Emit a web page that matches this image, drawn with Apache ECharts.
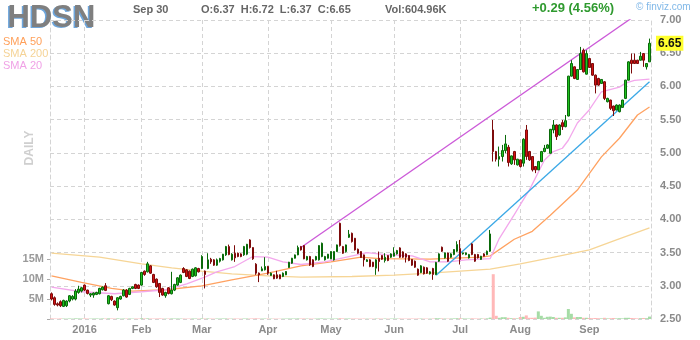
<!DOCTYPE html>
<html><head><meta charset="utf-8">
<script src="https://cdn.jsdelivr.net/npm/echarts@6/dist/echarts.min.js"></script>
<style>html,body{margin:0;padding:0;background:#fff}#c{width:700px;height:340px}</style>
</head><body><div id="c"></div>
<script>
const holidays = ['2015-12-25','2016-01-01','2016-01-18','2016-02-15','2016-03-25','2016-05-30','2016-07-04','2016-09-05'];
const monthLabels = ['2016','Feb','Mar','Apr','May','Jun','Jul','Aug','Sep','Oct','Nov','Dec'];
const volumeTickLabels = ['5M','10M','15M'];

const open = [
2.88,2.82,2.73,2.76,2.69,2.70,2.77,2.80,2.80,2.90,
2.92,3.01,2.935,2.86,2.86,2.87,2.88,2.94,3.00,2.73,
2.84,2.77,2.67,2.80,2.85,2.935,2.87,2.96,3.02,3.01,
3.01,3.22,3.21,3.30,3.17,3.10,3.035,2.96,2.85,2.97,
2.88,2.935,3.01,3.05,3.26,3.24,3.22,3.14,3.15,3.26,
3.26,3.22,3.26,3.40,3.39,3.31,3.37,3.39,3.465,3.59,
3.39,3.49,3.49,3.48,3.465,3.475,3.69,3.575,3.325,3.19,
3.225,3.24,3.29,3.155,3.165,3.165,3.165,3.14,3.165,3.275,
3.34,3.415,3.465,3.59,3.605,3.39,3.44,3.39,3.39,3.39,
3.44,3.39,3.415,3.405,3.39,3.515,3.94,3.59,3.515,3.73,
3.79,3.715,3.55,3.515,3.465,3.365,3.39,3.355,3.265,3.415,
3.455,3.38,3.455,3.43,3.445,3.48,3.57,3.51,3.48,3.455,
3.396,3.37,3.25,3.20,3.28,3.27,3.18,3.26,3.17,3.37,
3.58,3.42,3.495,3.43,3.47,3.52,3.56,3.48,3.47,3.42,
3.63,3.47,3.47,3.396,3.48,3.47,3.52,5.345,5.02,4.905,
4.945,5.035,5.085,4.835,5.02,4.82,4.895,4.845,5.345,5.02,
4.945,4.795,4.745,4.87,5.02,5.07,4.995,5.345,5.42,5.27,
5.455,5.395,5.555,6.155,6.295,6.105,6.255,6.545,6.185,6.42,
6.345,6.17,6.12,6.045,6.07,5.77,5.795,5.705,5.645,5.62,
5.685,5.82,6.095,6.395,6.395,6.395,6.395,6.495,6.295,6.37];
const high = [
2.90,2.84,2.75,2.78,2.79,2.78,2.86,2.86,2.95,3.00,
2.98,3.02,2.94,2.89,2.90,2.91,2.97,2.99,3.04,2.86,
2.85,2.78,2.83,2.85,2.95,2.95,2.97,2.99,3.03,3.02,
3.21,3.23,3.36,3.31,3.18,3.11,3.04,2.97,2.91,2.98,
3.21,3.03,3.13,3.17,3.28,3.25,3.23,3.26,3.28,3.27,
3.46,3.23,3.49,3.42,3.40,3.41,3.42,3.48,3.60,3.62,
3.49,3.61,3.50,3.49,3.60,3.63,3.70,3.58,3.34,3.20,
3.29,3.43,3.30,3.20,3.17,3.225,3.17,3.20,3.22,3.36,
3.42,3.47,3.605,3.60,3.61,3.45,3.45,3.40,3.45,3.61,
3.65,3.45,3.48,3.52,3.52,3.62,3.95,3.60,3.62,3.84,
3.80,3.72,3.56,3.52,3.47,3.40,3.40,3.36,3.40,3.515,
3.46,3.49,3.46,3.49,3.58,3.54,3.58,3.52,3.49,3.46,
3.40,3.38,3.26,3.31,3.29,3.28,3.22,3.27,3.36,3.49,
3.59,3.50,3.50,3.49,3.55,3.67,3.69,3.50,3.50,3.48,
3.64,3.48,3.48,3.45,3.49,3.53,3.84,5.495,5.03,5.095,
5.12,5.27,5.12,4.96,5.03,4.91,4.90,5.22,5.42,5.03,
4.95,4.80,4.88,5.03,5.12,5.13,5.36,5.495,5.43,5.43,
5.495,5.57,6.16,6.395,6.30,6.26,6.595,6.57,6.545,6.43,
6.35,6.18,6.13,6.11,6.08,5.83,5.80,5.71,5.73,5.73,
5.80,6.10,6.38,6.495,6.495,6.40,6.52,6.50,6.35,6.72];
const low = [
2.78,2.70,2.69,2.68,2.68,2.68,2.75,2.78,2.78,2.88,
2.90,2.92,2.87,2.83,2.82,2.86,2.87,2.93,2.92,2.72,
2.77,2.70,2.63,2.79,2.84,2.82,2.86,2.95,2.95,2.95,
3.00,3.15,3.20,3.18,3.04,2.97,2.83,2.85,2.82,2.87,
2.87,2.92,3.00,3.04,3.19,3.13,3.10,3.13,3.14,3.20,
3.25,2.96,3.25,3.33,3.30,3.30,3.35,3.38,3.45,3.46,
3.38,3.36,3.43,3.43,3.45,3.46,3.56,3.39,3.165,3.055,
3.22,3.23,3.165,3.15,3.10,3.105,3.10,3.13,3.16,3.27,
3.33,3.41,3.46,3.53,3.40,3.38,3.30,3.28,3.38,3.38,
3.43,3.38,3.41,3.40,3.38,3.51,3.59,3.48,3.50,3.72,
3.65,3.53,3.48,3.42,3.29,3.36,3.28,3.28,3.165,3.215,
3.39,3.35,3.37,3.42,3.44,3.47,3.42,3.42,3.35,3.37,
3.30,3.27,3.15,3.19,3.17,3.18,3.17,3.09,3.16,3.36,
3.51,3.41,3.36,3.42,3.46,3.51,3.32,3.47,3.46,3.41,
3.46,3.36,3.41,3.39,3.44,3.46,3.51,4.87,4.87,4.795,
4.87,4.995,4.795,4.82,4.82,4.81,4.78,4.795,4.895,4.88,
4.72,4.695,4.74,4.86,5.01,5.06,4.99,5.295,5.195,5.26,
5.345,5.385,5.55,6.15,6.11,6.10,6.25,6.21,6.18,6.28,
6.16,5.895,6.01,6.04,5.795,5.76,5.645,5.555,5.64,5.61,
5.68,5.81,6.09,6.195,6.34,6.34,6.39,6.295,6.255,6.37];
const close = [
2.80,2.72,2.71,2.70,2.78,2.77,2.85,2.84,2.92,2.95,
2.97,2.935,2.884,2.88,2.89,2.90,2.96,2.98,2.93,2.85,
2.79,2.71,2.82,2.84,2.935,2.83,2.96,2.985,2.96,2.96,
3.20,3.17,3.33,3.19,3.05,2.985,2.90,2.86,2.90,2.884,
2.935,3.02,3.12,3.16,3.20,3.14,3.11,3.25,3.27,3.21,
3.44,3.17,3.39,3.36,3.31,3.39,3.41,3.475,3.59,3.47,
3.475,3.42,3.44,3.44,3.59,3.625,3.575,3.405,3.19,3.165,
3.255,3.29,3.19,3.19,3.105,3.115,3.105,3.19,3.215,3.355,
3.415,3.465,3.575,3.54,3.405,3.44,3.315,3.29,3.44,3.605,
3.64,3.44,3.475,3.515,3.515,3.615,3.605,3.49,3.615,3.775,
3.665,3.54,3.49,3.425,3.39,3.39,3.29,3.29,3.39,3.365,
3.40,3.43,3.38,3.48,3.495,3.53,3.43,3.43,3.43,3.38,
3.31,3.28,3.16,3.30,3.18,3.19,3.21,3.17,3.35,3.48,
3.52,3.495,3.37,3.48,3.545,3.62,3.396,3.495,3.495,3.47,
3.47,3.37,3.42,3.445,3.445,3.52,3.78,5.02,4.905,4.945,
5.035,5.135,4.855,4.955,4.895,4.905,4.795,5.205,4.945,4.895,
4.745,4.745,4.87,5.02,5.07,5.12,5.355,5.42,5.245,5.42,
5.395,5.485,6.155,6.345,6.12,6.255,6.495,6.22,6.495,6.285,
6.17,6.02,6.02,6.105,5.82,5.82,5.67,5.635,5.72,5.72,
5.795,6.095,6.37,6.345,6.345,6.345,6.455,6.395,6.345,6.65];
// volume in millions of shares
const volume = [
0.15,0.12,0.10,0.14,0.11,0.09,0.13,0.10,0.16,0.14,
0.12,0.15,0.11,0.10,0.12,0.13,0.10,0.14,0.12,0.16,
0.13,0.11,0.15,0.10,0.12,0.11,0.13,0.10,0.12,0.11,
0.20,0.14,0.16,0.12,0.11,0.13,0.15,0.12,0.10,0.11,
0.14,0.12,0.13,0.11,0.12,0.10,0.11,0.13,0.12,0.10,
0.16,0.12,0.14,0.11,0.10,0.12,0.11,0.13,0.14,0.12,
0.10,0.13,0.11,0.10,0.12,0.13,0.12,0.14,0.18,0.13,
0.11,0.12,0.12,0.10,0.11,0.10,0.09,0.10,0.11,0.13,
0.12,0.12,0.15,0.12,0.14,0.11,0.12,0.10,0.11,0.13,
0.14,0.11,0.10,0.12,0.11,0.13,0.20,0.14,0.12,0.13,
0.12,0.13,0.11,0.10,0.12,0.10,0.11,0.10,0.12,0.13,
0.11,0.12,0.10,0.11,0.12,0.11,0.13,0.11,0.10,0.11,
0.12,0.11,0.13,0.12,0.11,0.10,0.10,0.12,0.20,0.18,
0.15,0.12,0.11,0.13,0.15,0.20,0.22,0.14,0.12,0.11,
0.18,0.13,0.12,0.14,0.12,0.16,0.35,11.2,0.80,0.30,
0.45,0.45,0.30,0.20,0.20,0.15,0.50,0.55,0.90,0.30,
0.30,0.35,1.90,0.80,0.30,0.55,0.60,0.50,0.30,0.30,
0.30,0.40,2.50,1.30,0.40,0.50,0.50,0.30,0.30,0.25,
0.20,0.25,0.20,0.15,0.30,0.15,0.20,0.25,0.15,0.20,
0.15,0.30,0.30,0.25,0.20,0.15,0.20,0.25,0.20,0.605];
const sma20 = [[0,2.98],[10,2.91],[21,2.88],[30,2.91],[38,2.94],[45,3.03],[51,3.13],[55,3.21],[61,3.29],[67,3.44],[72,3.43],[77,3.36],[83,3.32],[91,3.36],[99,3.44],[105,3.50],[111,3.47],[120,3.45],[126,3.36],[132,3.36],[138,3.39],[146,3.41],[149,3.71],[154,4.07],[156,4.22],[159,4.44],[164,4.89],[167,5.02],[170,5.07],[172,5.19],[175,5.45],[179,5.65],[183,5.92],[189,5.99],[191,6.05],[194,6.09],[199,6.11]];
const sma50 = [[0,3.15],[10,3.05],[20,2.96],[27,2.92],[38,2.94],[50,3.00],[60,3.09],[72,3.19],[83,3.30],[93,3.36],[103,3.43],[109,3.41],[126,3.40],[143,3.43],[146,3.45],[154,3.70],[160,3.82],[166,4.06],[175,4.44],[183,4.94],[189,5.22],[195,5.57],[199,5.69]];
const sma200 = [[0,3.49],[16,3.43],[30,3.33],[40,3.27],[50,3.22],[60,3.18],[72,3.15],[83,3.13],[100,3.14],[114,3.16],[126,3.19],[136,3.22],[146,3.25],[156,3.33],[166,3.42],[179,3.54],[188,3.69],[199,3.87]];
const trendUpper = [[83,3.575],[195,7.09]];
const trendLower = [[128,3.16],[199,6.07]];

const dates = (function () {
  const out = [];
  let t = Date.UTC(2015, 11, 16);
  const end = Date.UTC(2016, 8, 30);
  while (t <= end) {
    const d = new Date(t);
    const wd = d.getUTCDay();
    const s = d.toISOString().slice(0, 10);
    if (wd !== 0 && wd !== 6 && holidays.indexOf(s) < 0) out.push(s);
    t += 86400000;
  }
  return out;
})();
const isMonthStart = i => i > 0 && i < dates.length && dates[i].slice(5, 7) !== dates[i - 1].slice(5, 7);

const FONT = '"Liberation Sans", Arial, Helvetica, sans-serif';
const GRID_C = '#d4d4d4';
const chart = echarts.init(document.getElementById('c'), null, {renderer: 'canvas'});

const txt = (left, top, text, font, fill, extra) => Object.assign({type: 'text', left, top, silent: true, style: {text, font, fill}}, extra || {});

chart.setOption({
  animation: false,
  backgroundColor: '#ffffff',
  grid: [
    {left: 50, right: 49, top: 20, bottom: 21, outerBoundsMode: 'none'},
    {left: 50, right: 49, top: 259, bottom: 21, outerBoundsMode: 'none'}
  ],
  xAxis: [
    {type: 'category', gridIndex: 0, data: dates, boundaryGap: true,
     axisLine: {show: false}, axisTick: {show: false},
     axisLabel: {interval: (i) => isMonthStart(i), margin: 5, color: '#8c8c8c', fontFamily: FONT, fontSize: 11, fontWeight: 'bold',
       formatter: (v) => monthLabels[parseInt(v.slice(5, 7), 10) - 1]},
     splitLine: {show: true, interval: (i) => isMonthStart(i), alignWithLabel: true, lineStyle: {color: GRID_C, type: [4, 3], width: 1}}},
    {type: 'category', gridIndex: 1, data: dates, boundaryGap: true, show: false}
  ],
  yAxis: [
    {type: 'value', gridIndex: 0, position: 'right', min: 2.5, max: 7, interval: 0.5, scale: true,
     axisLine: {show: true, lineStyle: {color: GRID_C, type: [4, 3]}}, axisTick: {show: false},
     axisLabel: {margin: 9, color: '#8a8a8a', fontFamily: FONT, fontSize: 11, fontWeight: 'bold', formatter: (v) => v.toFixed(2)},
     splitLine: {show: true, lineStyle: {color: GRID_C, type: [4, 3], width: 1}}},
    {type: 'value', gridIndex: 0, position: 'left', min: 0, max: 1,
     axisLine: {show: true, lineStyle: {color: GRID_C, type: [4, 3]}}, axisTick: {show: false},
     axisLabel: {show: false}, splitLine: {show: false}},
    {type: 'value', gridIndex: 1, position: 'left', min: 0, max: 15e6, interval: 5e6,
     axisLine: {show: false}, axisTick: {show: true, length: 3, lineStyle: {color: '#aaaaaa'}},
     axisLabel: {margin: 6, color: '#9a9a9a', fontFamily: FONT, fontSize: 11, fontWeight: 'bold',
       formatter: (v) => { const k = Math.round(v / 5e6); return k >= 1 && k <= 3 ? volumeTickLabels[k - 1] : ''; }},
     splitLine: {show: false}}
  ],
  series: [
    {type: 'bar', xAxisIndex: 1, yAxisIndex: 2, barWidth: 3, silent: true, z: 1,
     data: volume.map((v, i) => ({value: v * 1e6, itemStyle: {color: close[i] >= open[i] ? '#a6dca6' : '#ffb8b8'}}))},
    {type: 'line', name: 'SMA 200', data: sma200, symbol: 'none', silent: true, z: 2, lineStyle: {color: '#f6d596', width: 1.3}},
    {type: 'line', name: 'SMA 50', data: sma50, symbol: 'none', silent: true, z: 2, lineStyle: {color: '#ffa261', width: 1.3}},
    {type: 'line', name: 'SMA 20', data: sma20, symbol: 'none', silent: true, z: 2, lineStyle: {color: '#f3a8ec', width: 1.3}},
    {type: 'line', name: 'upper', data: trendUpper, symbol: 'none', silent: true, z: 3, clip: true, lineStyle: {color: '#cc5ad8', width: 1.3}},
    {type: 'line', name: 'lower', data: trendLower, symbol: 'none', silent: true, z: 3, clip: true, lineStyle: {color: '#3aa8e6', width: 1.3}},
    {type: 'candlestick', xAxisIndex: 0, yAxisIndex: 0, z: 5, barWidth: 2, silent: true,
     data: open.map((o, i) => [o, close[i], low[i], high[i]]),
     itemStyle: {color: '#1fc21f', color0: '#d41111', borderColor: '#0a6a0a', borderColor0: '#7d0b0b', borderWidth: 1},
     markLine: {silent: true, symbol: ['none', 'none'], lineStyle: {color: 'rgba(0,0,0,0)', width: 0},
       label: {show: true, position: 'end', distance: 5, formatter: () => close[close.length - 1].toFixed(2),
         backgroundColor: '#ffff2e', color: '#111', fontFamily: FONT, fontSize: 12, fontWeight: 'bold', padding: [2, 2, 1, 2]},
       data: [{yAxis: close[close.length - 1]}]}}
  ],
  graphic: [
    txt(6, 4, 'HDSN', 'bold 31px ' + FONT, '#6ea6dc'),
    txt(7.5, 2.5, 'HDSN', 'bold 31px ' + FONT, '#7f7f7f'),
    txt(3, 36, 'SMA 50', '11px ' + FONT, '#ffa05a'),
    txt(3, 48, 'SMA 200', '11px ' + FONT, '#f5d396'),
    txt(3, 60, 'SMA 20', '11px ' + FONT, '#f0a2e6'),
    txt(133, 4, 'Sep 30', 'bold 11px ' + FONT, '#666666'),
    txt(201, 4, 'O:6.37  H:6.72  L:6.37  C:6.65', 'bold 11px ' + FONT, '#666666'),
    txt(385, 4, 'Vol:604.96K', 'bold 11px ' + FONT, '#666666'),
    txt(532, 2, '+0.29 (4.56%)', 'bold 13px ' + FONT, '#2f9a2f'),
    txt(636, 2, '\u00a9 finviz.com', '10px ' + FONT, '#80b8e8'),
    {type: 'text', x: 30, y: 148, rotation: Math.PI / 2, silent: true,
     style: {text: 'DAILY', font: 'bold 12px ' + FONT, fill: '#cfcfcf', align: 'center', verticalAlign: 'middle'}}
  ]
});
</script></body></html>
